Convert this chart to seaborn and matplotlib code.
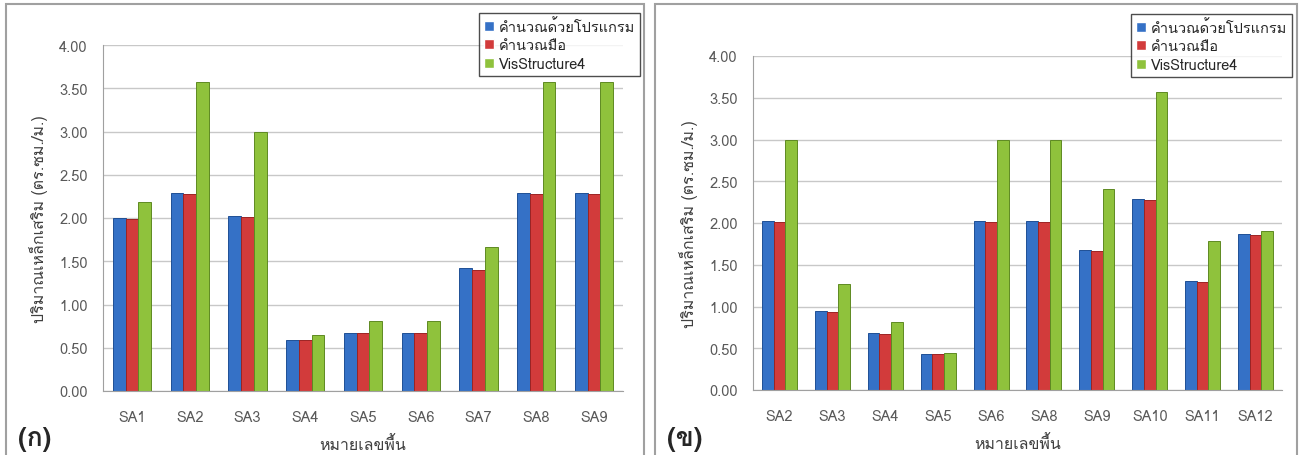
import pandas as pd
import matplotlib
matplotlib.use('Agg')
import matplotlib.pyplot as plt
import seaborn as sns
from matplotlib import font_manager
from matplotlib.ft2font import FT2Font
from matplotlib.patches import Rectangle

methods = ['คำนวณด้วยโปรแกรม', 'คำนวณมือ', 'VisStructure4']

slabs_a = ['SA1', 'SA2', 'SA3', 'SA4', 'SA5', 'SA6', 'SA7', 'SA8', 'SA9']
program_a = [2.00, 2.29, 2.02, 0.59, 0.67, 0.67, 1.42, 2.29, 2.29]
hand_a = [1.99, 2.28, 2.01, 0.59, 0.67, 0.67, 1.40, 2.28, 2.28]
vis_a = [2.19, 3.57, 3.00, 0.65, 0.81, 0.81, 1.66, 3.57, 3.57]

slabs_b = ['SA2', 'SA3', 'SA4', 'SA5', 'SA6', 'SA8', 'SA9', 'SA10', 'SA11', 'SA12']
program_b = [2.02, 0.95, 0.68, 0.43, 2.02, 2.02, 1.68, 2.29, 1.30, 1.87]
hand_b = [2.01, 0.94, 0.67, 0.43, 2.01, 2.01, 1.67, 2.28, 1.29, 1.86]
vis_b = [3.00, 1.27, 0.81, 0.44, 3.00, 3.00, 2.41, 3.57, 1.78, 1.90]

colors = ['#3571c6', '#d23b3b', '#8fc23c']
edges = ['#1f4f95', '#9c2323', '#5e8a22']


def thai_font():
    # หาฟอนต์ที่มีอักษรไทย
    for f in font_manager.fontManager.ttflist:
        try:
            if FT2Font(f.fname).get_char_index(0x0E01):
                return f.name
        except Exception:
            pass
    return 'DejaVu Sans'


sns.set_style('white')
fam = thai_font()
plt.rcParams['font.family'] = [fam, 'DejaVu Sans']


def long_table(slabs, prog, hand, vis):
    rows = []
    for vals, m in zip([prog, hand, vis], methods):
        for s, v in zip(slabs, vals):
            rows.append({'slab': s, 'method': m, 'value': v})
    return pd.DataFrame(rows)


fig = plt.figure(figsize=(13.02, 4.56), dpi=100)
W, H = 1302, 456

panels = [
    (long_table(slabs_a, program_a, hand_a, vis_a), '(ก)', (103, 46, 623, 392), (6, 644), (489, 14, 640, 79)),
    (long_table(slabs_b, program_b, hand_b, vis_b), '(ข)', (753, 57, 1282, 391), (655, 1297), (1141, 15, 1292, 82)),
]

for df, tag, box, border, leg in panels:
    x0, y0, x1, y1 = box
    ax = fig.add_axes([x0 / W, 1 - y1 / H, (x1 - x0) / W, (y1 - y0) / H])
    sns.barplot(data=df, x='slab', y='value', hue='method', palette=colors,
                width=0.66, saturation=1, ax=ax, legend=True)
    # ขอบแท่งสีเข้ม
    for cont, ec in zip(ax.containers, edges):
        for bar in cont:
            bar.set_edgecolor(ec)
            bar.set_linewidth(0.7)
    ax.set_ylim(0, 4)
    ax.set_yticks([0, 0.5, 1, 1.5, 2, 2.5, 3, 3.5, 4])
    ax.set_yticklabels([f'{v:.2f}' for v in ax.get_yticks()])
    n = df['slab'].nunique()
    ax.set_xlim(-0.5, n - 0.5)
    ax.set_xticks([i - 0.5 for i in range(n + 1)], minor=False)
    ax.set_xticklabels([])
    ax.set_xticks(range(n), minor=True)
    ax.set_xticklabels(df['slab'].unique(), minor=True)
    ax.tick_params(axis='x', which='minor', length=0, pad=14, labelsize=10.5, labelcolor='#595959')
    ax.tick_params(axis='x', which='major', length=5, color='#a0a0a0', direction='out')
    ax.tick_params(axis='y', length=5, color='#a0a0a0', direction='out', labelsize=10.5,
                   labelcolor='#595959', pad=6)
    ax.grid(axis='y', color='#c8c8c8', linewidth=1)
    ax.set_axisbelow(True)
    for s in ['top', 'right']:
        ax.spines[s].set_visible(False)
    for s in ['left', 'bottom']:
        ax.spines[s].set_color('#a0a0a0')
    ax.set_xlabel('หมายเลขพื้น', fontsize=11.5, color='#404040', labelpad=8)
    ax.set_ylabel('ปริมาณเหล็กเสริม (ตร.ซม./ม.)', fontsize=11.5, color='#404040', labelpad=8)

    lx0, ly0, lx1, ly1 = leg
    handles, labels = ax.get_legend_handles_labels()
    ax.legend(handles, labels, loc='upper right',
              bbox_to_anchor=(lx1 / W, 1 - ly0 / H), bbox_transform=fig.transFigure,
              frameon=True, fancybox=False, edgecolor='#202020', fontsize=10.5,
              handlelength=0.7, handleheight=0.7, handletextpad=0.3,
              labelspacing=0.3, borderpad=0.35, borderaxespad=0)
    ax.legend_.get_frame().set_linewidth(1)

    bx0, bx1 = border
    fig.add_artist(Rectangle((bx0 / W, -0.05), (bx1 - bx0) / W, 1.05 - 5 / H,
                             transform=fig.transFigure, fill=False,
                             edgecolor='#a0a0a0', linewidth=1.5))
    fig.text((bx0 + 12) / W, 1 - 446 / H, tag, fontsize=19, fontweight='bold',
             ha='left', va='baseline')

fig.savefig('out.png', dpi=100)
